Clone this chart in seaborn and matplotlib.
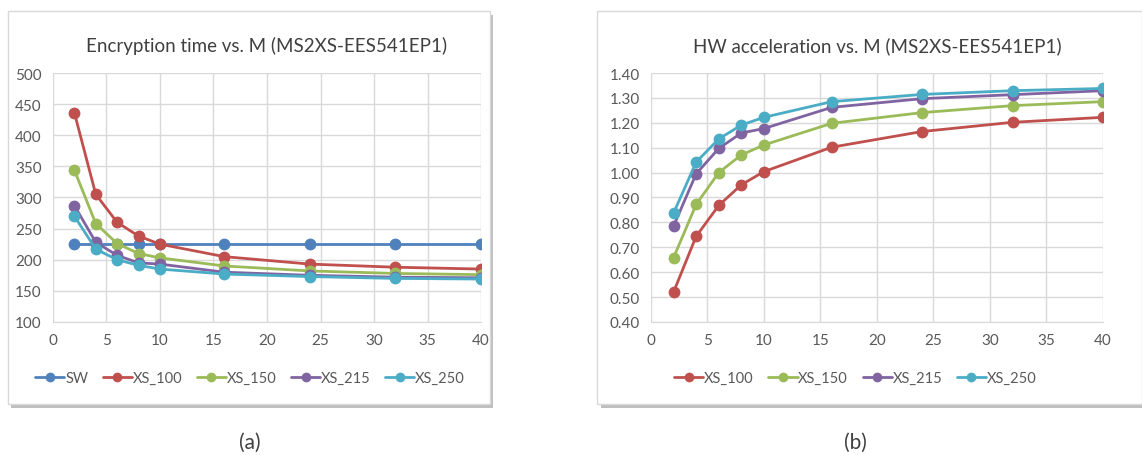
import pandas as pd
import matplotlib.pyplot as plt
import seaborn as sns
from matplotlib.patches import Rectangle

# data
m_values = [2, 4, 6, 8, 10, 16, 24, 32, 40]

enc_sw = [226, 226, 226, 226, 226, 226, 226, 226, 226]
enc_xs100 = [436, 305, 260, 238, 225, 205, 193, 188, 185]
enc_xs150 = [344, 258, 226, 210, 203, 190, 182, 178, 176]
enc_xs215 = [287, 228, 207, 195, 193, 180, 175, 172, 171]
enc_xs250 = [270, 217, 200, 191, 185, 177, 173, 170, 169]

acc_xs100 = [0.52, 0.744, 0.868, 0.951, 1.004, 1.102, 1.165, 1.202, 1.222]
acc_xs150 = [0.658, 0.872, 1.00, 1.071, 1.111, 1.198, 1.241, 1.269, 1.285]
acc_xs215 = [0.785, 0.995, 1.097, 1.159, 1.177, 1.262, 1.297, 1.313, 1.329]
acc_xs250 = [0.837, 1.042, 1.135, 1.191, 1.222, 1.285, 1.314, 1.329, 1.338]

colors = {"SW": "#4F81BD", "XS_100": "#C0504D", "XS_150": "#9BBB59",
          "XS_215": "#8064A2", "XS_250": "#4BACC6"}

def to_long(series):
    rows = []
    for name, vals in series.items():
        for m, v in zip(m_values, vals):
            rows.append({"M": m, "value": v, "series": name})
    return pd.DataFrame(rows)

enc_df = to_long({"SW": enc_sw, "XS_100": enc_xs100, "XS_150": enc_xs150,
                  "XS_215": enc_xs215, "XS_250": enc_xs250})
acc_df = to_long({"XS_100": acc_xs100, "XS_150": acc_xs150,
                  "XS_215": acc_xs215, "XS_250": acc_xs250})

sns.set_style("white")
plt.rcParams['font.family'] = ['Lato', 'DejaVu Sans']

fig = plt.figure(figsize=(11.42, 4.56), dpi=100)

# chart frames with a soft shadow
for x0, w in [(0.007, 0.422), (0.523, 0.477)]:
    fig.patches.append(Rectangle((x0 + 0.003, 0.104), w, 0.862, transform=fig.transFigure,
                                 facecolor="#BFBFBF", edgecolor="none", zorder=-3))
    fig.patches.append(Rectangle((x0, 0.112), w, 0.862, transform=fig.transFigure,
                                 facecolor="white", edgecolor="#D9D9D9", lw=1, zorder=-2))

ax1 = fig.add_axes([0.0464, 0.2917, 0.3748, 0.546])
ax2 = fig.add_axes([0.570, 0.2917, 0.3958, 0.546])

def style_axis(ax, df, title, ylim, yticks, fmt, legend_x):
    sns.lineplot(data=df, x="M", y="value", hue="series", palette=colors,
                 marker="o", markersize=8.5, markeredgewidth=0, linewidth=2,
                 ax=ax, legend=True, zorder=3)
    ax.set_xlim(0, 40)
    ax.set_ylim(*ylim)
    ax.set_xticks(range(0, 41, 5))
    ax.set_yticks(yticks)
    ax.set_yticklabels([fmt.format(t) for t in yticks])
    ax.grid(True, color="#D9D9D9", linewidth=1)
    ax.set_axisbelow(True)
    for s in ["top", "right", "left"]:
        ax.spines[s].set_visible(False)
    ax.spines["bottom"].set_color("#D9D9D9")
    ax.tick_params(axis="both", length=0, labelsize=11, colors="#595959", pad=8)
    ax.set_xlabel("")
    ax.set_ylabel("")
    ax.set_title(title, fontsize=13.5, color="#404040", pad=16)
    handles, labels = ax.get_legend_handles_labels()
    for h in handles:
        h.set_markersize(7)
    ax.legend(handles, labels, loc="center", bbox_to_anchor=(legend_x, 0.169),
              bbox_transform=fig.transFigure, ncol=len(labels), frameon=False,
              fontsize=10.5, handlelength=2.0, handletextpad=0.05, columnspacing=1.0,
              labelcolor="#595959")

style_axis(ax1, enc_df, "Encryption time vs. M (MS2XS-EES541EP1)", (100, 500),
           list(range(100, 501, 50)), "{:d}", 0.219)
style_axis(ax2, acc_df, "HW acceleration vs. M (MS2XS-EES541EP1)", (0.4, 1.4),
           [0.4 + 0.1 * i for i in range(11)], "{:.2f}", 0.749)

fig.text(0.219, 0.029, "(a)", ha="center", va="center", fontsize=15, color="#404040")
fig.text(0.749, 0.029, "(b)", ha="center", va="center", fontsize=15, color="#404040")

plt.savefig("out.png", dpi=100)
